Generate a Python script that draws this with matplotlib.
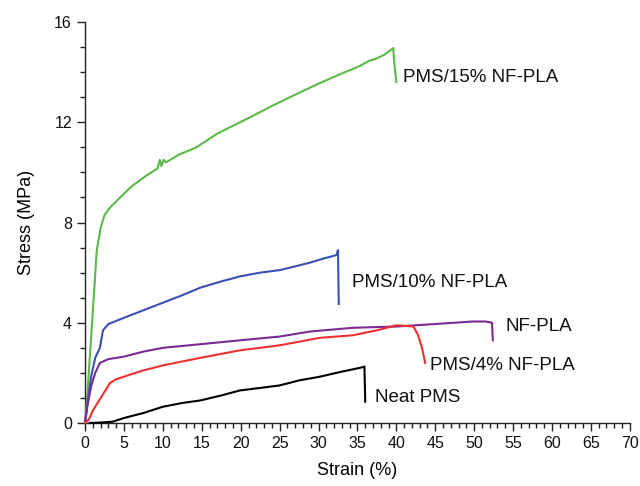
import matplotlib
matplotlib.use("Agg")
import matplotlib.pyplot as plt
from matplotlib.ticker import MultipleLocator

plt.rcParams['font.family'] = ['Liberation Sans', 'DejaVu Sans']

# Data (strain %, stress MPa)
pms15_x = [0.0, 0.3, 1.0, 1.5, 2.0, 2.5, 3.2, 4.5, 6.0, 8.0, 9.3, 9.6, 9.8, 10.1, 10.4, 12.0, 14.3, 17.0, 21.2, 24.0, 27.0, 30.2, 33.0, 35.0, 36.5, 37.5, 38.5, 39.6, 39.7, 40.0]
pms15_y = [0.0, 1.2, 4.5, 6.9, 7.8, 8.3, 8.6, 9.0, 9.45, 9.9, 10.15, 10.5, 10.25, 10.5, 10.4, 10.7, 11.0, 11.55, 12.2, 12.65, 13.1, 13.57, 13.95, 14.2, 14.45, 14.55, 14.7, 14.96, 14.5, 13.6]

pms10_x = [0.0, 0.3, 0.8, 1.3, 1.9, 2.3, 3.0, 5.0, 7.5, 10.0, 12.5, 14.8, 17.5, 19.9, 22.5, 25.0, 27.0, 28.9, 30.5, 32.3, 32.5, 32.6]
pms10_y = [0.0, 0.8, 1.9, 2.6, 3.0, 3.7, 3.95, 4.2, 4.5, 4.8, 5.1, 5.4, 5.65, 5.85, 6.0, 6.1, 6.25, 6.4, 6.55, 6.7, 6.9, 4.75]

nfpla_x = [0.0, 0.3, 0.8, 1.3, 1.9, 3.0, 5.0, 7.5, 10.0, 15.0, 19.9, 25.0, 28.9, 34.4, 40.0, 45.0, 49.8, 51.5, 52.3, 52.4]
nfpla_y = [0.0, 0.7, 1.5, 2.0, 2.4, 2.55, 2.65, 2.85, 3.0, 3.15, 3.3, 3.45, 3.65, 3.8, 3.85, 3.95, 4.05, 4.05, 4.0, 3.3]

pms4_x = [0.0, 0.5, 1.0, 2.0, 3.2, 4.0, 5.0, 7.5, 10.0, 14.8, 19.9, 25.0, 30.2, 34.4, 37.5, 40.0, 42.2, 42.8, 43.3, 43.7]
pms4_y = [0.0, 0.15, 0.5, 1.0, 1.6, 1.75, 1.85, 2.1, 2.3, 2.6, 2.9, 3.1, 3.4, 3.5, 3.7, 3.9, 3.85, 3.5, 3.0, 2.4]

neat_x = [0.6, 2.0, 3.5, 5.0, 7.5, 10.0, 12.5, 14.8, 17.5, 19.9, 22.5, 25.0, 27.5, 30.2, 33.0, 35.3, 35.9, 36.0]
neat_y = [0.0, 0.02, 0.05, 0.2, 0.4, 0.65, 0.8, 0.9, 1.1, 1.3, 1.4, 1.5, 1.7, 1.85, 2.05, 2.2, 2.25, 0.85]

series = [
    (pms15_x, pms15_y, '#5ab947', 'PMS/15% NF-PLA', (40.8, 13.8)),
    (pms10_x, pms10_y, '#3b4fb5', 'PMS/10% NF-PLA', (34.3, 5.6)),
    (nfpla_x, nfpla_y, '#7a2a96', 'NF-PLA', (54.0, 3.85)),
    (pms4_x, pms4_y, '#ef3030', 'PMS/4% NF-PLA', (44.3, 2.3)),
    (neat_x, neat_y, '#000000', 'Neat PMS', (37.2, 1.0)),
]

fig = plt.figure(figsize=(6.4, 4.86), dpi=100)
ax = fig.add_axes([0.133, 0.1296, 0.851, 0.8251])

for xs, ys, c, lab, (tx, ty) in series:
    ax.plot(xs, ys, color=c, lw=1.5, clip_on=False, zorder=3)
    ax.text(tx, ty, lab, fontsize=13.5, va='center', ha='left', color='#111111')

ax.set_xlim(0, 70)
ax.set_ylim(0, 16)
ax.xaxis.set_major_locator(MultipleLocator(5))
ax.xaxis.set_minor_locator(MultipleLocator(1))
ax.yaxis.set_major_locator(MultipleLocator(4))
ax.yaxis.set_minor_locator(MultipleLocator(1))
for s in ['top', 'right']:
    ax.spines[s].set_visible(False)
for s in ['left', 'bottom']:
    ax.spines[s].set_linewidth(1.0)
    ax.spines[s].set_color('#222222')
ax.tick_params(which='major', direction='out', length=6, width=1.0, labelsize=11.5, colors='#222222', labelcolor='#111111')
ax.tick_params(which='minor', direction='out', length=3.5, width=1.0, colors='#222222')
ax.set_xlabel('Strain (%)', fontsize=13, labelpad=8)
ax.set_ylabel('Stress (MPa)', fontsize=13, labelpad=14)

fig.savefig('out.png', dpi=100)
